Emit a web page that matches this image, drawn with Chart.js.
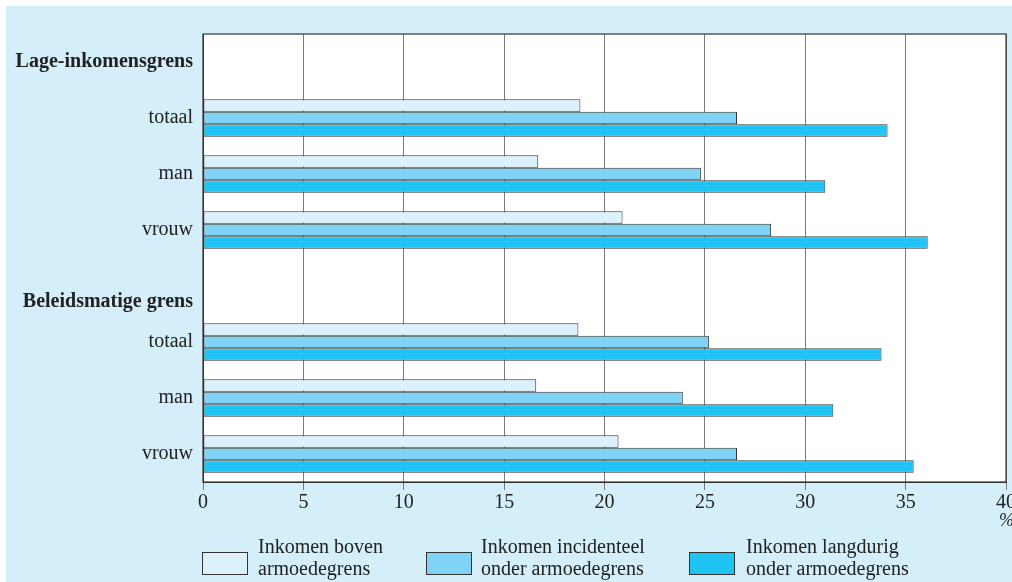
<!DOCTYPE html>
<html>
<head>
<meta charset="utf-8">
<script src="https://cdn.jsdelivr.net/npm/chart.js@4/dist/chart.umd.min.js"></script>
<style>
  html, body { margin: 0; padding: 0; background: #ffffff; }
  #wrap { position: relative; width: 1012px; height: 582px; overflow: hidden; }
  #panel { position: absolute; left: 6px; top: 6px; width: 1006px; height: 576px; background: #d4eefa; }
  #c { position: absolute; left: 0; top: 0; }
  .lbox { position: absolute; width: 44px; height: 21px; border: 1px solid #333; }
  .ltxt { position: absolute; font-family: "Liberation Serif", serif; font-size: 20px; line-height: 21.5px; color: #222; white-space: nowrap; }
  #pct { position: absolute; left: 999px; top: 510px; font-family: "Liberation Serif", serif; font-size: 18px; font-style: italic; color: #222; }
</style>
</head>
<body>
<div id="wrap">
  <div id="panel"></div>
  <canvas id="c" width="1012" height="582"></canvas>
  <div id="pct">%</div>
  <div id="legend"></div>
</div>
<script>
const categories = ['', 'totaal', 'man', 'vrouw', '', 'totaal', 'man', 'vrouw'];
const headings = ['Lage-inkomensgrens', 'Beleidsmatige grens'];
const headingIndex = [0, 4];
const boven       = [null, 18.8, 16.7, 20.9, null, 18.7, 16.6, 20.7];
const incidenteel = [null, 26.6, 24.8, 28.3, null, 25.2, 23.9, 26.6];
const langdurig   = [null, 34.1, 31.0, 36.1, null, 33.8, 31.4, 35.4];
const seriesNames = [
  ['Inkomen boven', 'armoedegrens'],
  ['Inkomen incidenteel', 'onder armoedegrens'],
  ['Inkomen langdurig', 'onder armoedegrens']
];
const colors = ['#dcf1fc', '#80d3f5', '#20c4f2'];
const xTicks = [0, 5, 10, 15, 20, 25, 30, 35, 40];

const FONT = '"Liberation Serif", serif';

const plotBg = {
  id: 'plotBg',
  beforeDraw(chart) {
    const a = chart.chartArea, ctx = chart.ctx;
    ctx.save();
    ctx.fillStyle = '#ffffff';
    ctx.fillRect(a.left, a.top, a.right - a.left, a.bottom - a.top);
    ctx.restore();
  },
  afterDraw(chart) {
    const a = chart.chartArea, ctx = chart.ctx;
    ctx.save();
    ctx.strokeStyle = '#333';
    ctx.lineWidth = 1.2;
    ctx.strokeRect(a.left, a.top, a.right - a.left, a.bottom - a.top);
    const y = chart.scales.y;
    ctx.font = 'bold 20px ' + FONT;
    ctx.fillStyle = '#222';
    ctx.textAlign = 'right';
    ctx.textBaseline = 'middle';
    headings.forEach((h, i) => {
      const idx = headingIndex[i];
      const yy = y.getPixelForValue(idx) + (i === 1 ? 16 : 0);
      ctx.fillText(h, a.left - 10, yy);
    });
    ctx.restore();
  }
};

new Chart(document.getElementById('c'), {
  type: 'bar',
  data: {
    labels: categories,
    datasets: [
      { label: seriesNames[0].join(' '), data: boven, backgroundColor: colors[0] },
      { label: seriesNames[1].join(' '), data: incidenteel, backgroundColor: colors[1] },
      { label: seriesNames[2].join(' '), data: langdurig, backgroundColor: colors[2] }
    ].map(d => Object.assign(d, { borderColor: '#333', borderWidth: 1, borderSkipped: false }))
  },
  options: {
    indexAxis: 'y',
    responsive: false,
    animation: false,
    devicePixelRatio: 1,
    categoryPercentage: 0.667,
    barPercentage: 1.0,
    layout: { padding: { top: 34, right: 6, left: 0, bottom: 0 } },
    plugins: { legend: { display: false }, tooltip: { enabled: false } },
    scales: {
      x: {
        min: 0, max: 40,
        afterBuildTicks(s) { s.ticks = xTicks.map(v => ({ value: v })); },
        afterFit(s) { s.height = 100; s.paddingLeft = 0; s.paddingRight = 0; },
        grid: { color: '#7a7a7a', lineWidth: 1, drawTicks: true, tickLength: 8 },
        border: { display: true, color: '#333', width: 1 },
        ticks: { font: { family: FONT, size: 20 }, color: '#222', padding: 1, maxRotation: 0 }
      },
      y: {
        afterFit(s) { s.width = 203; s.paddingTop = 0; s.paddingBottom = 0; },
        grid: { display: false, drawTicks: false },
        border: { display: true, color: '#333', width: 1 },
        ticks: { font: { family: FONT, size: 20 }, color: '#222', padding: 10, autoSkip: false }
      }
    }
  },
  plugins: [plotBg]
});

const legend = document.getElementById('legend');
const boxX = [202, 426, 689];
const txtX = [258, 481, 746];
seriesNames.forEach((lines, i) => {
  const b = document.createElement('div');
  b.className = 'lbox';
  b.style.left = boxX[i] + 'px';
  b.style.top = '552px';
  b.style.background = colors[i];
  legend.appendChild(b);
  const t = document.createElement('div');
  t.className = 'ltxt';
  t.style.left = txtX[i] + 'px';
  t.style.top = '536px';
  t.innerHTML = lines[0] + '<br>' + lines[1];
  legend.appendChild(t);
});
</script>
</body>
</html>
